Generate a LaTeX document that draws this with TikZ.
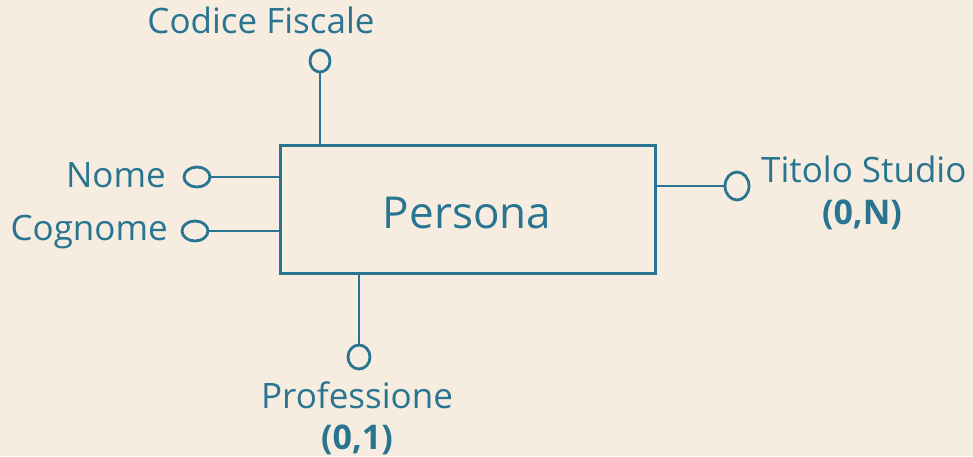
\documentclass[tikz,border=0pt]{standalone}
\usepackage{fontspec}
\setmainfont{Open Sans}
\usetikzlibrary{shapes.geometric}
\definecolor{erteal}{RGB}{40,116,145}
\definecolor{erbg}{RGB}{246,237,224}
\tikzset{
  entity/.style={draw=erteal, line width=3pt, minimum width=375pt, minimum height=128pt, inner sep=0pt},
  attr/.style={ellipse, draw=erteal, line width=2.8pt, inner sep=0pt},
  lbl/.style={text=erteal, anchor=base, inner sep=0pt, font=\fontsize{35}{38}\selectfont},
  card/.style={text=erteal, anchor=base, inner sep=0pt, font=\fontsize{34}{36}\selectfont\bfseries}
}
\begin{document}
\begin{tikzpicture}[x=1pt, y=1pt]
        \fill[erbg] (0,0) rectangle (973,-456);
        \useasboundingbox (0,0) rectangle (973,-456);
        \node[entity] (persona) at (467.5,-209) {};
        \node[lbl, font=\fontsize{44}{48}\selectfont] at (467,-228) {Persona};
        \node[attr, minimum width=20pt, minimum height=22pt] (cf) at (320,-61) {};
        \node[attr, minimum width=26pt, minimum height=20pt] (nome) at (197,-177) {};
        \node[attr, minimum width=26pt, minimum height=20pt] (cognome) at (195,-231) {};
        \node[attr, minimum width=24pt, minimum height=28pt] (titolo) at (737,-186) {};
        \node[attr, minimum width=22pt, minimum height=24pt] (prof) at (359,-357) {};
        \draw[erteal, line width=2.8pt] (cf) -- (cf |- persona.north);
        \draw[erteal, line width=2.8pt] (nome) -- (nome -| persona.west);
        \draw[erteal, line width=2.8pt] (cognome) -- (cognome -| persona.west);
        \draw[erteal, line width=2.8pt] (titolo) -- (titolo -| persona.east);
        \draw[erteal, line width=2.8pt] (prof) -- (prof |- persona.south);
        \node[lbl] (cflbl) at (261,-33) {Codice Fiscale};
        \node[lbl, anchor=base east] (nomelbl) at (166,-187) {Nome};
        \node[lbl, anchor=base east] (cognomelbl) at (168,-240) {Cognome};
        \node[lbl, anchor=base west] (titololbl) at (761,-182) {Titolo Studio};
        \node[card] (titolocard) at (862,-224) {(0,N)};
        \node[lbl] (proflbl) at (357,-408) {Professione};
        \node[card] (profcard) at (357,-449) {(0,1)};
    \end{tikzpicture}
\end{document}
